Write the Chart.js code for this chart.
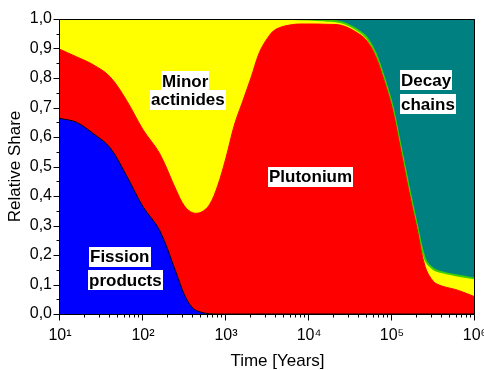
<!DOCTYPE html>
<html>
<head>
<meta charset="utf-8">
<script src="https://cdn.jsdelivr.net/npm/chart.js@4.4.1/dist/chart.umd.min.js"></script>
<style>
  html, body { margin: 0; padding: 0; background: #fff; }
  #wrap { width: 484px; height: 370px; }
</style>
</head>
<body>
<div id="wrap"><canvas id="c" width="484" height="370"></canvas></div>
<script>
// Time after discharge, in years (log spaced)
const years = [10, 15.8, 25.1, 39.8, 63.1, 100, 158, 251, 316, 398, 501, 631, 794,
  1000, 1259, 1585, 1995, 2512, 3162, 3981, 6310, 10000, 15849, 25119, 39811,
  50119, 63096, 79433, 100000, 125893, 158489, 199526, 251189, 316228, 398107,
  630957, 1000000];

// Relative share of each contributor at each time
const fissionProducts = [0.663, 0.650, 0.612, 0.565, 0.470, 0.364, 0.285, 0.140,
  0.065, 0.020, 0.006, 0.001, 0, 0, 0, 0, 0, 0, 0, 0, 0, 0, 0, 0, 0, 0, 0, 0, 0,
  0, 0, 0, 0, 0, 0, 0, 0];
const plutonium = [0.234, 0.222, 0.233, 0.240, 0.255, 0.261, 0.260, 0.280, 0.301,
  0.323, 0.339, 0.369, 0.435, 0.530, 0.640, 0.720, 0.800, 0.885, 0.935, 0.965,
  0.981, 0.983, 0.982, 0.978, 0.950, 0.925, 0.875, 0.795, 0.700, 0.562, 0.420,
  0.290, 0.160, 0.110, 0.095, 0.080, 0.058];
const minorActinides = [0.103, 0.128, 0.155, 0.195, 0.275, 0.375, 0.455, 0.580,
  0.634, 0.657, 0.655, 0.630, 0.565, 0.470, 0.360, 0.280, 0.200, 0.115, 0.065,
  0.035, 0.019, 0.015, 0.013, 0.010, 0.010, 0.010, 0.010, 0.010, 0.010, 0.012,
  0.014, 0.012, 0.025, 0.042, 0.047, 0.050, 0.062];
const decayChains = [0, 0, 0, 0, 0, 0, 0, 0, 0, 0, 0, 0, 0, 0, 0, 0, 0, 0, 0, 0,
  0, 0.002, 0.005, 0.012, 0.040, 0.065, 0.115, 0.195, 0.290, 0.426, 0.566, 0.698,
  0.815, 0.848, 0.858, 0.870, 0.880];

// Decade tick labels on the time axis
const decadeValues = [10, 100, 1000, 10000, 100000, 1000000];
const decadeLabels = ['10\u00B9', '10\u00B2', '10\u00B3', '10\u2074', '10\u2075', '10\u2076'];

// In-plot labels: text, time, share, alignment
const areaLabels = [
  ['Minor', 321, 0.790, 'center'],
  ['actinides', 345, 0.727, 'center'],
  ['Plutonium', 10570, 0.466, 'center'],
  ['Fission', 22.4, 0.194, 'left'],
  ['products', 21.6, 0.115, 'left'],
  ['Decay', 124800, 0.793, 'left'],
  ['chains', 126000, 0.712, 'left']
];

const FONT = "'Liberation Sans', Arial, sans-serif";
Chart.defaults.font.family = FONT;
Chart.defaults.color = '#000';

const frameAndLabels = {
  id: 'frameAndLabels',
  afterDatasetsDraw(chart) {
    const { ctx, chartArea: a, scales: { x, y } } = chart;
    ctx.save();
    ctx.lineWidth = 1;
    ctx.strokeStyle = '#000';
    const L = Math.round(a.left) - 0.5, R = Math.round(a.right) - 0.5;
    const T = Math.round(a.top) + 0.5, B = Math.round(a.bottom) + 0.5;
    ctx.beginPath();
    ctx.moveTo(L, T); ctx.lineTo(R, T); ctx.lineTo(R, B); ctx.lineTo(L, B); ctx.closePath();
    ctx.stroke();

    // tick marks, pointing outward
    ctx.beginPath();
    x.ticks.forEach(t => {
      const px = Math.round(x.getPixelForValue(t.value)) - 0.5;
      const len = decadeValues.includes(t.value) ? 6 : 3;
      ctx.moveTo(px, B); ctx.lineTo(px, B + len);
    });
    y.ticks.forEach(t => {
      const py = Math.round(y.getPixelForValue(t.value)) + 0.5;
      const major = Math.round(t.value * 100) % 10 === 0;
      const len = major ? 6 : 3;
      ctx.moveTo(L - len, py); ctx.lineTo(L, py);
    });
    ctx.stroke();

    // area labels on white boxes
    ctx.font = 'bold 17px ' + FONT;
    ctx.textBaseline = 'middle';
    areaLabels.forEach(([text, t, v, align]) => {
      const w = ctx.measureText(text).width;
      let px = x.getPixelForValue(t);
      const py = y.getPixelForValue(v);
      if (align === 'center') px -= w / 2 + 1;
      ctx.fillStyle = '#fff';
      ctx.fillRect(Math.round(px), Math.round(py - 10), Math.round(w + 2), 20);
      ctx.fillStyle = '#000';
      ctx.textAlign = 'left';
      ctx.fillText(text, Math.round(px) + 1, py + 1);
    });

    // time axis title
    ctx.font = '17px ' + FONT;
    ctx.textAlign = 'center';
    ctx.fillText('Time [Years]', a.left + (a.right - a.left) / 2 + 10, 361);
    ctx.restore();
  }
};

const area = (label, data, fillColor, border, width, fill) => ({
  label, data,
  backgroundColor: fillColor,
  borderColor: border,
  borderWidth: width,
  fill,
  pointRadius: 0,
  tension: 0.35
});

new Chart(document.getElementById('c'), {
  type: 'line',
  data: {
    labels: years,
    datasets: [
      area('Fission products', fissionProducts, '#0000ff', '#000', 1, 'origin'),
      area('Plutonium', plutonium, '#ff0000', '#ff0000', 1, '-1'),
      area('Minor actinides', minorActinides, '#ffff00', '#3ccf00', 2, '-1'),
      area('Decay chains', decayChains, '#008080', '#008080', 1, '-1')
    ]
  },
  options: {
    responsive: false,
    animation: false,
    events: [],
    layout: { padding: { left: 0, right: 9, top: 19, bottom: 0 } },
    plugins: { legend: { display: false }, tooltip: { enabled: false } },
    scales: {
      x: {
        type: 'logarithmic',
        min: 10, max: 1000000,
        stacked: true,
        border: { display: false },
        grid: { display: false, drawTicks: false },
        afterBuildTicks(scale) {
          const ticks = [];
          decadeValues.forEach((d, i) => {
            ticks.push({ value: d });
            if (i < decadeValues.length - 1) {
              for (let k = 2; k <= 9; k++) ticks.push({ value: d * k });
            }
          });
          scale.ticks = ticks;
        },
        afterFit(scale) {
          scale.height = 56;
          scale.paddingLeft = 0;
          scale.paddingRight = 0;
        },
        ticks: {
          autoSkip: false,
          maxRotation: 0,
          padding: 12,
          font: { size: 16 },
          callback(value) {
            const i = decadeValues.indexOf(value);
            return i >= 0 ? decadeLabels[i] : '';
          }
        }
      },
      y: {
        min: 0, max: 1,
        stacked: true,
        border: { display: false },
        grid: { display: false, drawTicks: false },
        afterFit(scale) {
          scale.width = 60;
          scale.paddingTop = 0;
          scale.paddingBottom = 0;
        },
        title: {
          display: true,
          text: 'Relative Share',
          font: { size: 17 },
          padding: { top: 5, bottom: 0 }
        },
        ticks: {
          stepSize: 0.05,
          autoSkip: false,
          padding: 8,
          font: { size: 16 },
          callback(value) {
            if (Math.round(value * 100) % 10 !== 0) return '';
            return value.toFixed(1).replace('.', ',');
          }
        }
      }
    }
  },
  plugins: [frameAndLabels]
});
</script>
</body>
</html>
